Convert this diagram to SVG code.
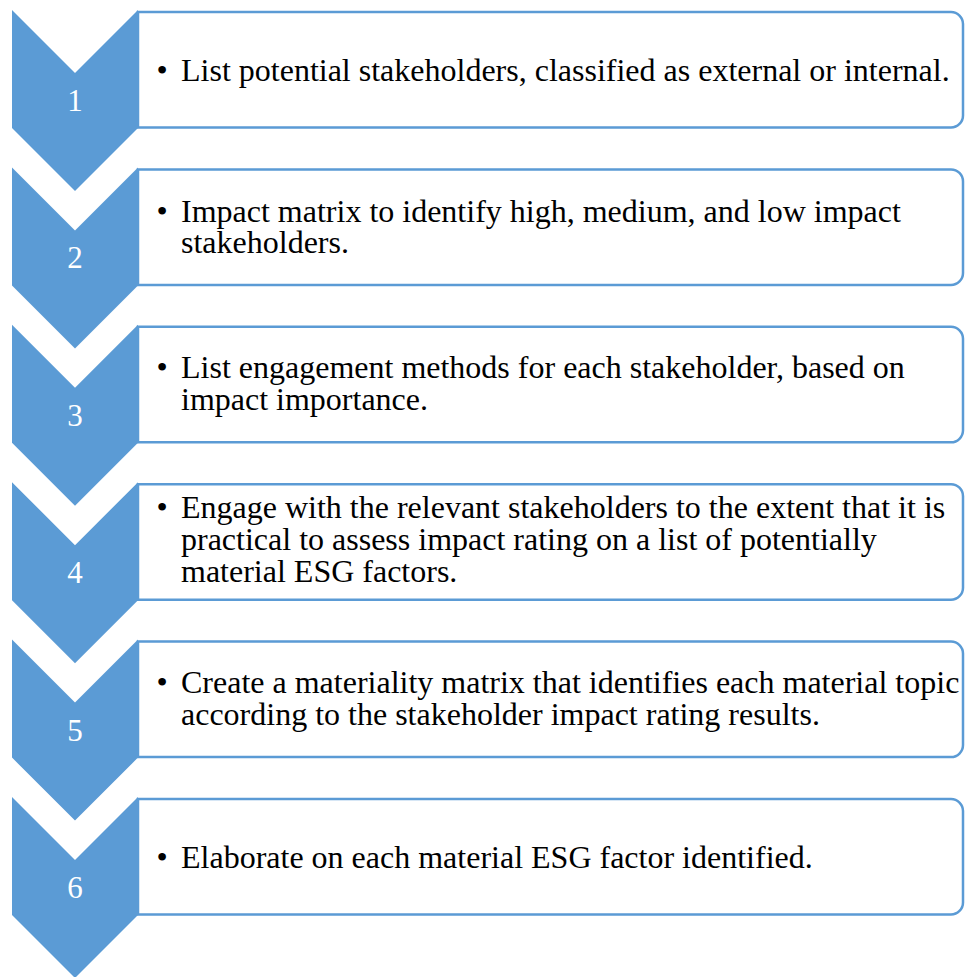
<svg xmlns="http://www.w3.org/2000/svg" width="965" height="977" viewBox="0 0 965 977">
<style>
.chev{fill:#5B9BD5;}
.box{fill:#FFFFFF;stroke:#5B9BD5;stroke-width:2.5;}
.num{font-size:31px;fill:#FFFFFF;text-anchor:middle;}
.txt{font-size:32px;fill:#000000;}
.bul{font-size:32px;fill:#000000;text-anchor:middle;}
</style>
<defs>
<path id="boxshape" d="M138,0 H951 A12,12 0 0 1 963,12 V103.5 A12,12 0 0 1 951,115.5 H138 Z"/>
<path id="chevshape" d="M12,0 L75,63 L138,0 L138,118 L75,181 L12,118 Z"/>
</defs>
<g font-family="'Liberation Serif', 'Times New Roman', Times, serif">
<g id="step1">
<use href="#boxshape" class="box" transform="translate(0,12)"/>
<use href="#chevshape" class="chev" transform="translate(0,10)"/>
<text class="num" x="75" y="111">1</text>
<text class="bul" x="162" y="81">•</text>
<text class="txt" x="181" y="81">List potential stakeholders, classified as external or internal.</text>
</g>
<g id="step2">
<use href="#boxshape" class="box" transform="translate(0,169.4)"/>
<use href="#chevshape" class="chev" transform="translate(0,167.4)"/>
<text class="num" x="75" y="268.4">2</text>
<text class="bul" x="162" y="222">•</text>
<text class="txt" x="181" y="222">Impact matrix to identify high, medium, and low impact</text>
<text class="txt" x="181" y="253">stakeholders.</text>
</g>
<g id="step3">
<use href="#boxshape" class="box" transform="translate(0,326.8)"/>
<use href="#chevshape" class="chev" transform="translate(0,324.8)"/>
<text class="num" x="75" y="425.8">3</text>
<text class="bul" x="162" y="378">•</text>
<text class="txt" x="181" y="378">List engagement methods for each stakeholder, based on</text>
<text class="txt" x="181" y="410">impact importance.</text>
</g>
<g id="step4">
<use href="#boxshape" class="box" transform="translate(0,484.2)"/>
<use href="#chevshape" class="chev" transform="translate(0,482.2)"/>
<text class="num" x="75" y="583.2">4</text>
<text class="bul" x="162" y="518">•</text>
<text class="txt" x="181" y="518">Engage with the relevant stakeholders to the extent that it is</text>
<text class="txt" x="181" y="550">practical to assess impact rating on a list of potentially</text>
<text class="txt" x="181" y="582">material ESG factors.</text>
</g>
<g id="step5">
<use href="#boxshape" class="box" transform="translate(0,641.6)"/>
<use href="#chevshape" class="chev" transform="translate(0,639.6)"/>
<text class="num" x="75" y="740.6">5</text>
<text class="bul" x="162" y="693">•</text>
<text class="txt" x="181" y="693">Create a materiality matrix that identifies each material topic</text>
<text class="txt" x="181" y="725">according to the stakeholder impact rating results.</text>
</g>
<g id="step6">
<use href="#boxshape" class="box" transform="translate(0,799)"/>
<use href="#chevshape" class="chev" transform="translate(0,797)"/>
<text class="num" x="75" y="898">6</text>
<text class="bul" x="162" y="868">•</text>
<text class="txt" x="181" y="868">Elaborate on each material ESG factor identified.</text>
</g>
</g>
<g id="connectors"></g>
</svg>
